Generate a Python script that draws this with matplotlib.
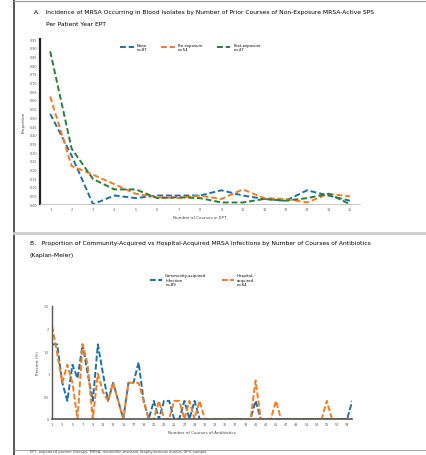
import matplotlib

matplotlib.use("Agg")
import matplotlib.pyplot as plt
from matplotlib.lines import Line2D

# panel A: proportion by number of courses (1..15)
courses_a = list(range(1, 16))
none_a = [0.52, 0.28, 0.00, 0.05, 0.035, 0.05, 0.05, 0.05, 0.08, 0.05, 0.03, 0.02, 0.08, 0.05, 0.02]
pre_a = [0.62, 0.22, 0.17, 0.115, 0.06, 0.04, 0.035, 0.05, 0.03, 0.085, 0.035, 0.03, 0.01, 0.06, 0.045]
post_a = [0.88, 0.32, 0.145, 0.085, 0.085, 0.035, 0.04, 0.035, 0.01, 0.01, 0.03, 0.02, 0.035, 0.06, 0.00]
labels_a = ["None\nn=87", "Pre-exposure\nn=54", "Post-exposure\nn=47"]
yticks_a = [round(0.05 * i, 2) for i in range(20)]

# panel B: percent by number of courses (1..60)
courses_b = list(range(1, 61))
community_b = [1.65, 1.65, 0.8, 0.4, 1.2, 0.9, 1.65, 1.0, 0.4, 1.65,
               1.0, 0.4, 0.8, 0.4, 0.0, 0.8, 0.8, 1.25, 0.4, 0.0,
               0.4, 0.0, 0.4, 0.4, 0.0, 0.0, 0.4, 0.0, 0.4, 0.0,
               0.0, 0.0, 0.0, 0.0, 0.0, 0.0, 0.0, 0.0, 0.0, 0.0,
               0.4, 0.0, 0.0, 0.0, 0.0, 0.0, 0.0, 0.0, 0.0, 0.0,
               0.0, 0.0, 0.0, 0.0, 0.0, 0.0, 0.0, 0.0, 0.0, 0.4]
hospital_b = [2.05, 1.45, 0.8, 1.2, 0.8, 0.0, 1.65, 1.2, 0.0, 1.0,
              0.6, 0.4, 0.8, 0.4, 0.0, 0.8, 0.8, 0.8, 0.4, 0.0,
              0.0, 0.4, 0.0, 0.0, 0.4, 0.4, 0.0, 0.4, 0.0, 0.4,
              0.0, 0.0, 0.0, 0.0, 0.0, 0.0, 0.0, 0.0, 0.0, 0.0,
              0.85, 0.0, 0.0, 0.0, 0.4, 0.0, 0.0, 0.0, 0.0, 0.0,
              0.0, 0.0, 0.0, 0.0, 0.4, 0.0, 0.0, 0.0, 0.0, 0.0]
labels_b = ["Community-acquired\nInfection\nn=89", "Hospital-\nacquired\nn=64"]
yticks_b = [0, 0.5, 1, 1.5, 2, 2.5]

BLUE = "#1f6fa8"
ORANGE = "#f57c1f"
GREEN = "#2a7d3a"
FS = 4.3

fig = plt.figure(figsize=(4.27, 4.56), dpi=100)

# panel frames
fig.add_artist(Line2D([0.032, 0.032], [0.0, 1.0], color="#555555", linewidth=1.4))
fig.add_artist(Line2D([0.032, 1.0], [0.996, 0.996], color="#999999", linewidth=0.8))
fig.add_artist(Line2D([0.032, 1.0], [0.487, 0.487], color="#cccccc", linewidth=2.0))
fig.add_artist(Line2D([0.032, 1.0], [0.012, 0.012], color="#999999", linewidth=0.6))

fig.text(0.08, 0.972,
         "A.   Incidence of MRSA Occurring in Blood Isolates by Number of Prior Courses of Non-Exposure MRSA-Active SPS",
         fontsize=FS, va="center")
fig.text(0.108, 0.946, "Per Patient Year EPT", fontsize=FS, va="center")

ax = fig.add_axes([0.094, 0.550, 0.749, 0.362])
for values, color in zip([none_a, pre_a, post_a], [BLUE, ORANGE, GREEN]):
    ax.plot(courses_a, values, color=color, linestyle="--", linewidth=1.4, dashes=(3, 1.5))
ax.set_xlim(0.53, 15.47)
ax.set_ylim(0, 0.95)
ax.set_xticks(courses_a)
ax.set_yticks(yticks_a)
ax.set_yticklabels([f"{v:.2f}" for v in yticks_a])
ax.tick_params(labelsize=2.4, length=0, pad=2, colors="#555555")
ax.set_xlabel("Number of Courses in EPT", fontsize=3, color="#444444", labelpad=3)
ax.set_ylabel("Proportion", fontsize=3, color="#444444", labelpad=3)
for spine in ["top", "right"]:
    ax.spines[spine].set_visible(False)
ax.spines["left"].set_linewidth(1.6)
ax.spines["left"].set_color("#222222")
ax.spines["bottom"].set_linewidth(0.6)
ax.spines["bottom"].set_color("#bbbbbb")
ax.legend(labels_a, loc="upper center", bbox_to_anchor=(0.47, 1.0), ncol=3, frameon=False,
          fontsize=2.8, handlelength=3.5, columnspacing=3.5, labelspacing=0.2)

fig.text(0.07, 0.465,
         "B.   Proportion of Community-Acquired vs Hospital-Acquired MRSA Infections by Number of Courses of Antibiotics",
         fontsize=FS, va="center")
fig.text(0.07, 0.439, "(Kaplan-Meier)", fontsize=FS, va="center")

bx = fig.add_axes([0.122, 0.079, 0.703, 0.248])
for values, color in zip([community_b, hospital_b], [BLUE, ORANGE]):
    bx.plot(courses_b, values, color=color, linestyle="--", linewidth=1.4, dashes=(3, 1.2))
bx.set_xlim(1, 60)
bx.set_ylim(0, 2.5)
bx.set_xticks(courses_b[::2])
bx.set_yticks(yticks_b)
bx.set_yticklabels(["0", "0.5", "1", "1.5", "2", "2.5"])
bx.tick_params(labelsize=2.4, length=0, pad=2, colors="#555555")
bx.set_xlabel("Number of Courses of Antibiotics", fontsize=3, color="#444444", labelpad=3)
bx.set_ylabel("Percent (%)", fontsize=3, color="#444444", labelpad=3)
for spine in ["top", "right"]:
    bx.spines[spine].set_visible(False)
bx.spines["left"].set_linewidth(1.0)
bx.spines["left"].set_color("#555555")
bx.spines["bottom"].set_linewidth(1.2)
bx.spines["bottom"].set_color("#555555")
bx.legend(labels_b, loc="upper center", bbox_to_anchor=(0.5, 1.32), ncol=2, frameon=False,
          fontsize=2.8, handlelength=3, columnspacing=4, labelspacing=0.2)

fig.text(0.07, 0.004, "EPT, expedited partner therapy; MRSA, methicillin-resistant Staphylococcus aureus; SPS, sample.",
         fontsize=2.6, color="#444444", va="bottom")

fig.savefig("out.png", dpi=100)
